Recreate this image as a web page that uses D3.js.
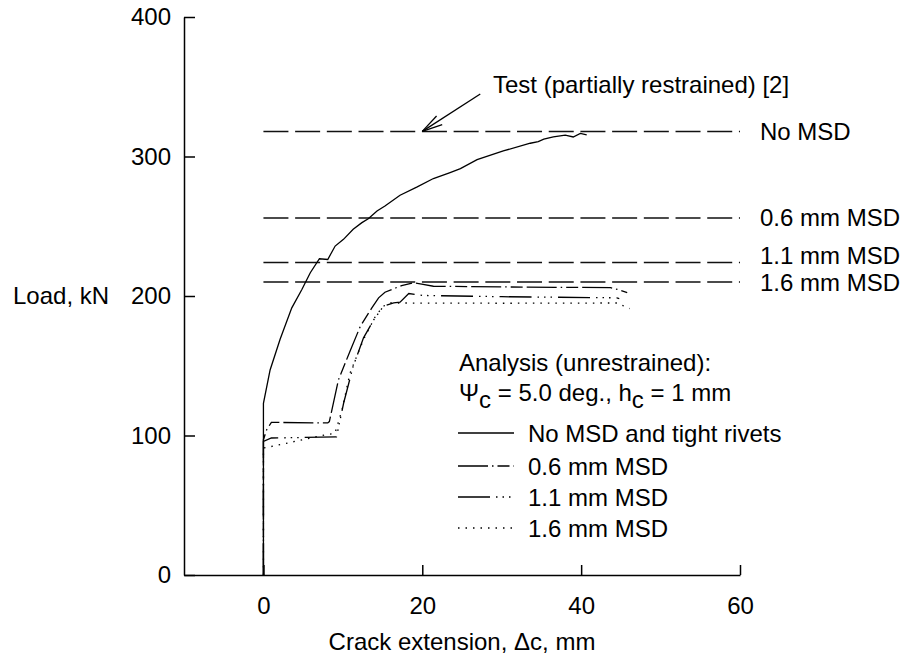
<!DOCTYPE html>
<html><head><meta charset="utf-8">
<script src="https://cdn.jsdelivr.net/npm/d3@7"></script>
<style>
body{margin:0;background:#fff;}
svg{display:block;}
text{font-family:"Liberation Sans",Arial,Helvetica,sans-serif;font-size:24px;fill:#000;}
</style></head>
<body>
<svg id="chart" width="910" height="662"></svg>
<script>
// ---- data ----
const xTicks = [0, 20, 40, 60];
const yTicks = [0, 100, 200, 300, 400];

const noMSD = [[0,0],[0,123],[0.84,147],[2.1,169],[3.57,191.5],[4.84,204.7],[5.9,216.7],[7.05,226.7],[8.1,226.2],[9.03,235.8],[10.08,240.6],[11.3,247.8],[12.4,252.6],[13.2,255.4],[14.3,260.9],[15.3,264.5],[17.2,272.2],[19.3,278],[21.4,284.2],[23.5,288.5],[24.8,291.3],[26.9,297.8],[30.2,304],[33.6,309.5],[34.6,310.7],[35.3,312.4],[36.5,314],[38,315.3],[39,314],[39.9,316.5],[40.7,315.5]];
const msd06 = [[0,0],[0,97],[0.4,104],[1,109.4],[8.1,109],[8.3,110],[9.45,140],[10.9,160.4],[12.2,178.3],[13.65,191.5],[14.5,198.7],[15.3,202.7],[17.4,207.5],[18.9,209.5],[20.1,208.3],[21.4,207],[30,206.5],[43.7,206],[44.9,204.2],[45.8,202.5]];
const msd11 = [[0,0],[0,95.7],[1,98.2],[9.2,99],[10.1,123.3],[11.3,149.6],[12.6,170],[13.9,183],[15.1,192.7],[16.4,195.1],[17.2,195.6],[18.3,201.8],[20.1,200.4],[30,199.5],[44.5,198.7],[44.8,198.2]];
const msd16 = [[0,0],[0,91],[0.5,91.5],[7.8,100.5],[9.0,101.5],[9.9,118.5],[10.9,144.8],[12.6,168.8],[14.1,185.5],[15.1,192.7],[16,195],[30,194.8],[44.5,195],[46.1,191]];

const testNames = ["No MSD", "0.6 mm MSD", "1.1 mm MSD", "1.6 mm MSD"];
const testLoads = [318, 256, 224, 210];
const testLabelShift = [0, 0, -7, 0];

const legendNames = ["No MSD and tight rivets", "0.6 mm MSD", "1.1 mm MSD", "1.6 mm MSD"];
const legendDash = ["none", "30,4,1.5,4,12,4", "32,6,1.5,5,1.5,5,1.5,6", "1.5,6"];

const arrowTip = [20, 318];
const arrowTail = [27.3, 344.8];

// ---- scales ----
const svg = d3.select("#chart");
const x = d3.scaleLinear().domain([-10, 60]).range([184, 740]);
const y = d3.scaleLinear().domain([0, 400]).range([575, 17]);

// ---- axes ----
const gx = svg.append("g").attr("transform", `translate(0,${y(0)})`)
  .call(d3.axisBottom(x).tickValues(xTicks).tickSizeInner(-10).tickSizeOuter(0).tickPadding(22).tickFormat(d3.format("d")));
const gy = svg.append("g").attr("transform", `translate(${x(-10)},0)`)
  .call(d3.axisLeft(y).tickValues(yTicks).tickSizeInner(-11).tickSizeOuter(0).tickPadding(13).tickFormat(d3.format("d")));
[gx, gy].forEach(g => {
  g.selectAll("path,line").attr("stroke", "#000").attr("stroke-width", 1.5);
  g.selectAll("text").style("font-size", "24px").style("font-family", '"Liberation Sans",Arial,sans-serif').attr("fill", "#000");
});

svg.append("text").attr("x", 13).attr("y", y(200) + 8).text("Load, kN");
svg.append("text").attr("x", (x(-10) + x(60)) / 2).attr("y", 650).attr("text-anchor", "middle").text("Crack extension, \u0394c, mm");

// ---- test reference lines ----
testLoads.forEach((v, i) => {
  svg.append("line").attr("x1", x(0)).attr("x2", x(60)).attr("y1", y(v)).attr("y2", y(v))
    .attr("stroke", "#111").attr("stroke-width", 1.5).attr("stroke-dasharray", "25,6.7");
  svg.append("text").attr("x", 760).attr("y", y(v) + 8.5 + testLabelShift[i]).text(testNames[i]);
});

// ---- analysis curves ----
const line = d3.line().x(d => x(d[0])).y(d => y(d[1]));
[noMSD, msd06, msd11, msd16].forEach((s, i) => {
  svg.append("path").datum(s).attr("d", line).attr("fill", "none")
    .attr("stroke", "#000").attr("stroke-width", 1.3)
    .attr("stroke-dasharray", legendDash[i]);
});

// ---- annotation arrow ----
const tx = x(arrowTip[0]), ty = y(arrowTip[1]);
const sx = x(arrowTail[0]), sy = y(arrowTail[1]);
svg.append("line").attr("x1", sx).attr("y1", sy).attr("x2", tx).attr("y2", ty).attr("stroke", "#000").attr("stroke-width", 1.3);
const ang = Math.atan2(sy - ty, sx - tx);
[-0.25, 0.25].forEach(da => {
  svg.append("line").attr("x1", tx).attr("y1", ty)
    .attr("x2", tx + 21 * Math.cos(ang + da)).attr("y2", ty + 21 * Math.sin(ang + da))
    .attr("stroke", "#000").attr("stroke-width", 1.3);
});
svg.append("text").attr("x", 493).attr("y", 93).text("Test (partially restrained) [2]");

// ---- legend ----
svg.append("text").attr("x", 459).attr("y", 371).text("Analysis (unrestrained):");
const psi = svg.append("text").attr("x", 459).attr("y", 401);
psi.append("tspan").text("\u03A8");
psi.append("tspan").attr("dy", 7).text("c");
psi.append("tspan").attr("dy", -7).text(" = 5.0 deg., h");
psi.append("tspan").attr("dy", 7).text("c");
psi.append("tspan").attr("dy", -7).text(" = 1 mm");

const legY = [433, 466, 497, 528];
legendNames.forEach((n, i) => {
  svg.append("line").attr("x1", 458).attr("x2", 514).attr("y1", legY[i]).attr("y2", legY[i])
    .attr("stroke", "#000").attr("stroke-width", 1.3).attr("stroke-dasharray", legendDash[i]);
  svg.append("text").attr("x", 528).attr("y", legY[i] + 8.5).text(n);
});
</script>
</body></html>
